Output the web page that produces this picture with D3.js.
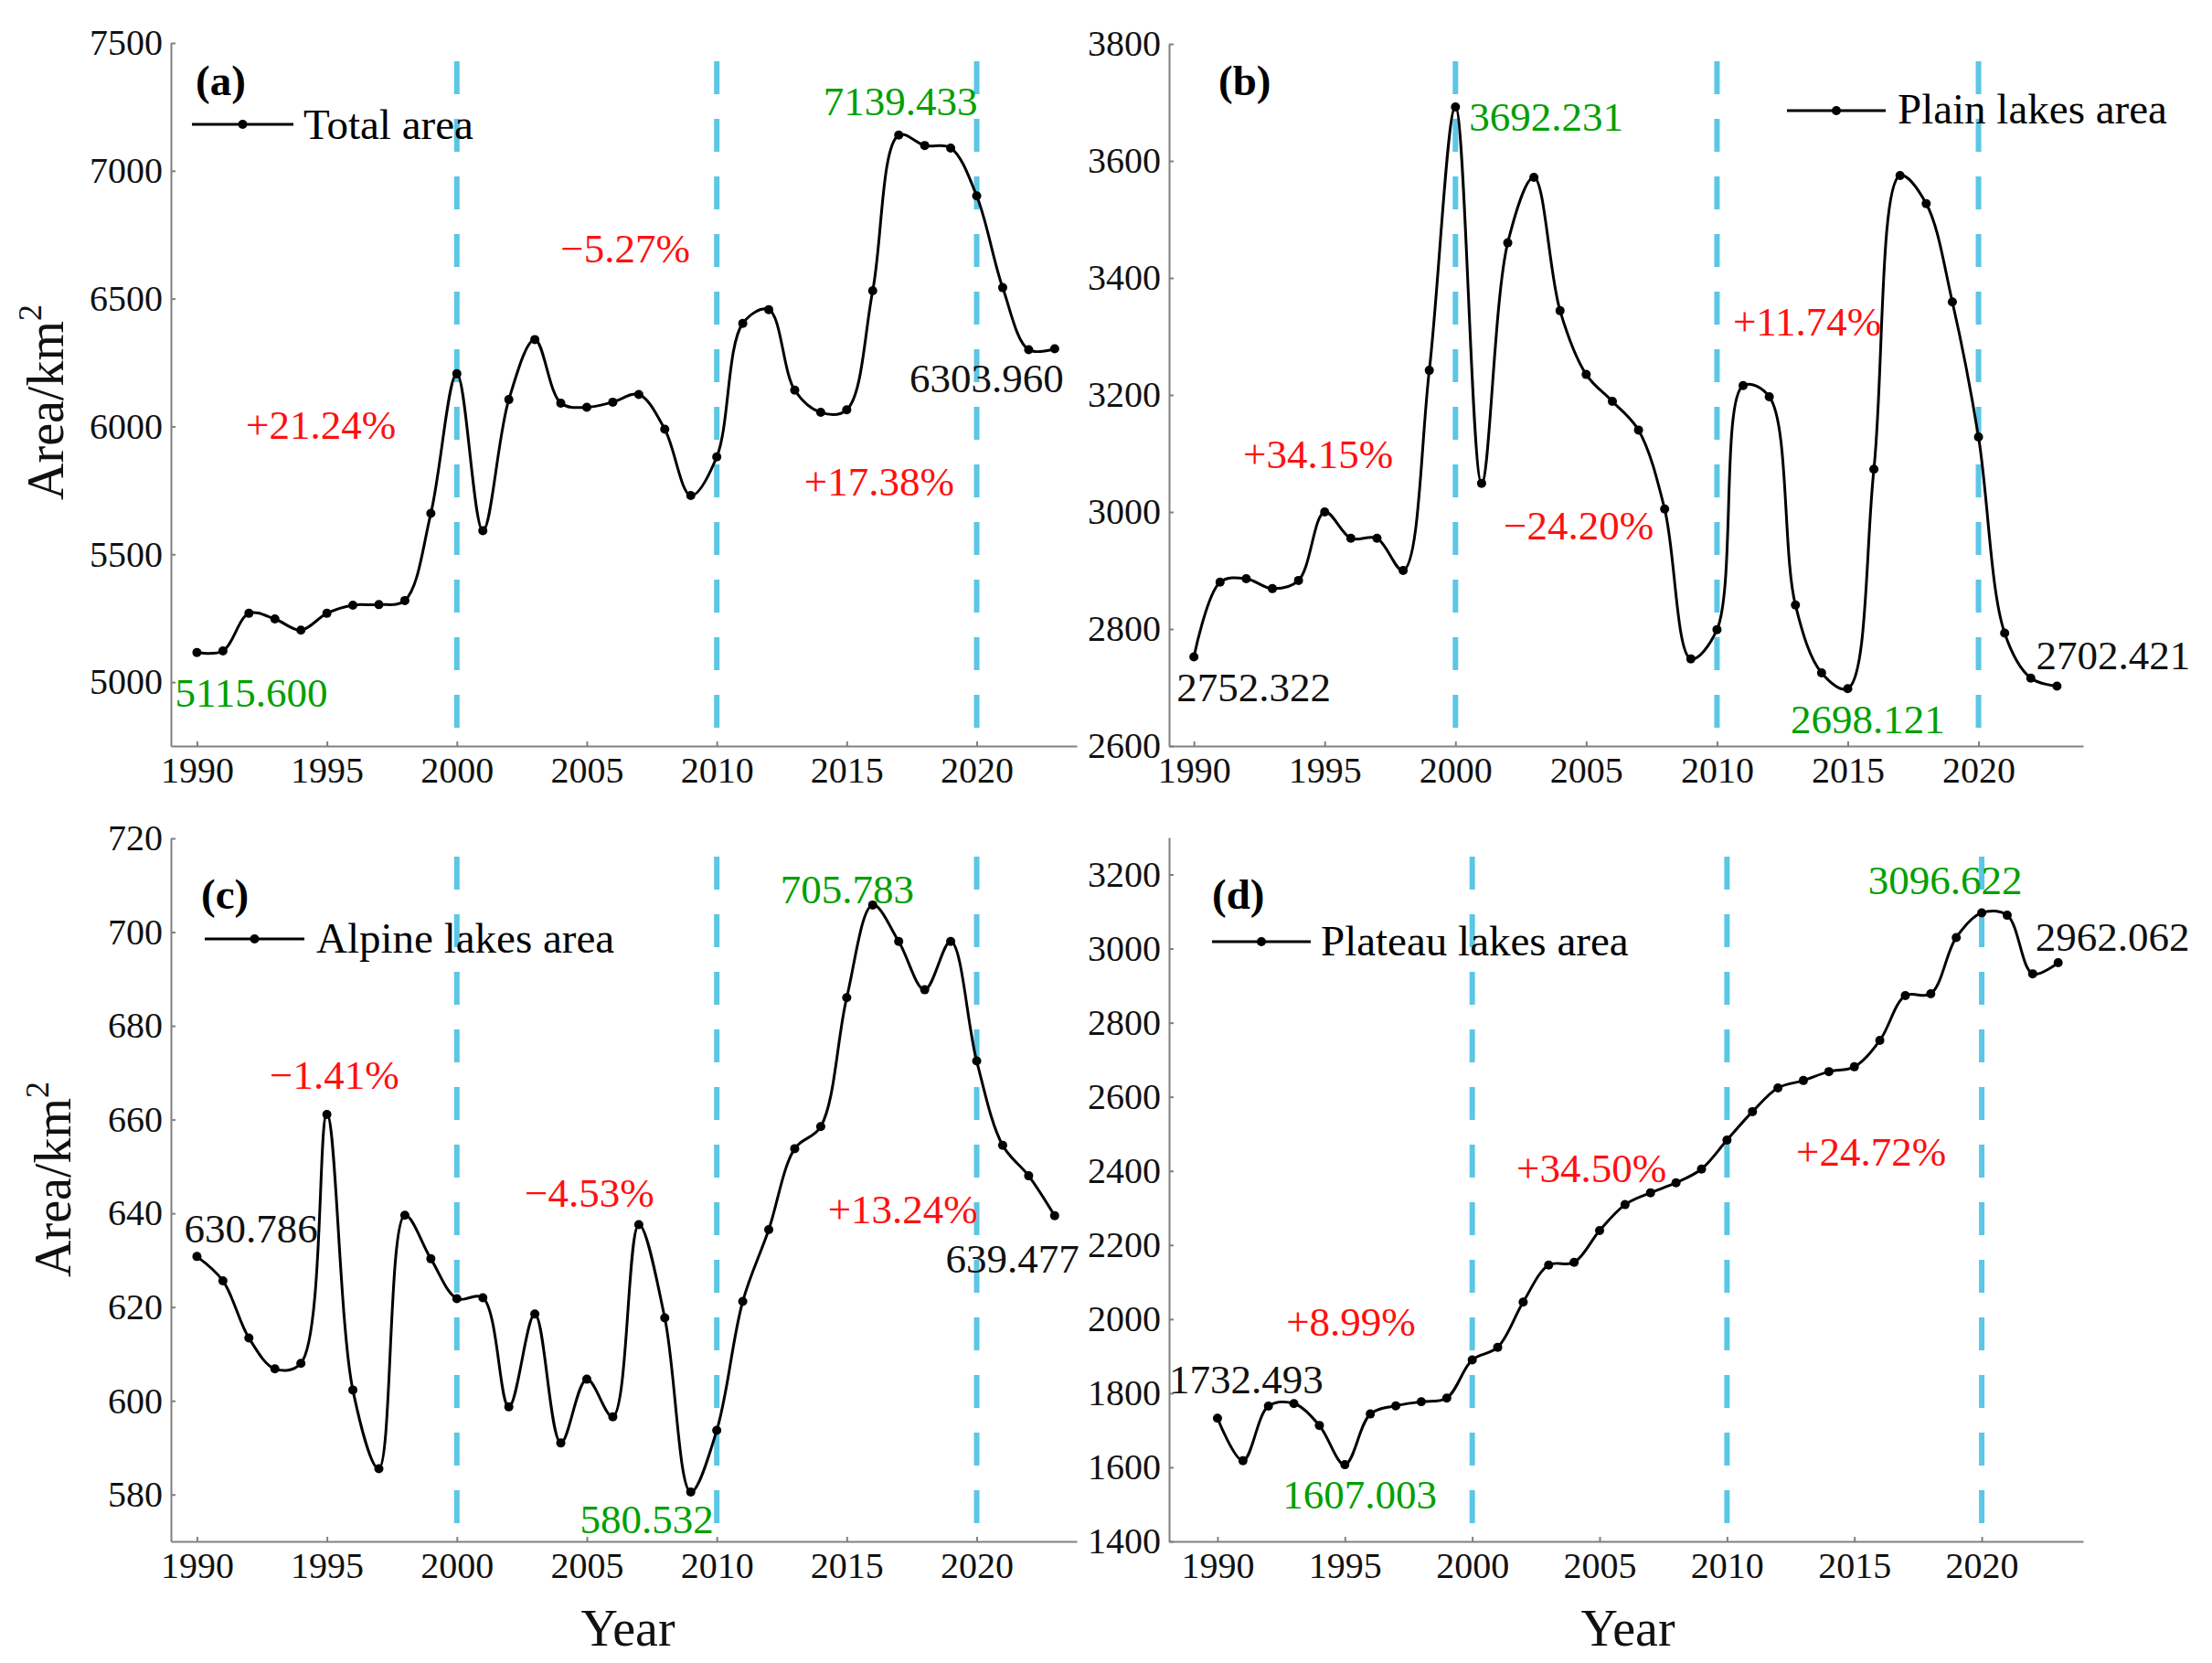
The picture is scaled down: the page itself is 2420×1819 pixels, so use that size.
<!DOCTYPE html>
<html>
<head>
<meta charset="utf-8">
<script src="https://cdn.jsdelivr.net/npm/d3@7"></script>
<style>
  html, body { margin: 0; padding: 0; background: #fff; }
  svg { display: block; }
</style>
</head>
<body>
<svg id="chart" width="2420" height="1819"></svg>
<script>
// ---------------- DATA ----------------
const years = [1990,1991,1992,1993,1994,1995,1996,1997,1998,1999,
               2000,2001,2002,2003,2004,2005,2006,2007,2008,2009,
               2010,2011,2012,2013,2014,2015,2016,2017,2018,2019,
               2020,2021,2022,2023];

const totalArea = [5115.600, 5122, 5269, 5247, 5203, 5269, 5301, 5303, 5319, 5660,
                   6206, 5592, 6105, 6340, 6091, 6075, 6095, 6125, 5989, 5730,
                   5881, 6403, 6457, 6142, 6055, 6065, 6531, 7139.433, 7099, 7089,
                   6902, 6543, 6300, 6303.960];

const plainArea = [2752.322, 2880, 2886, 2869, 2883, 3000, 2955, 2955, 2900, 3242,
                   3692.231, 3049, 3460, 3572, 3344, 3235, 3189, 3140, 3005, 2749,
                   2799, 3216, 3197, 2841, 2725, 2698.121, 3073, 3575, 3527, 3359,
                   3128, 2793, 2716, 2702.421];

const alpineArea = [630.786, 625.6, 613.4, 606.8, 608.0, 661.1, 602.3, 585.5, 639.6, 630.3,
                    621.8, 622.0, 598.7, 618.5, 591.0, 604.6, 596.6, 637.6, 617.7, 580.532,
                    593.7, 621.2, 636.5, 653.8, 658.5, 686.0, 705.783, 698.0, 687.7, 698.0,
                    672.5, 654.5, 648.0, 639.477];

const plateauArea = [1732.493, 1618, 1765, 1772, 1713, 1607.003, 1744, 1766, 1777, 1787,
                     1890, 1924, 2046, 2146, 2153, 2239, 2309, 2341, 2368, 2405,
                     2483, 2560, 2624, 2644, 2668, 2681, 2752, 2873, 2878, 3030,
                     3096.622, 3090, 2932, 2962.062];

const xTicks = [1990, 1995, 2000, 2005, 2010, 2015, 2020];
const dividerYears = [2000, 2010, 2020];
const yTicksA = [5000, 5500, 6000, 6500, 7000, 7500];
const yTicksB = [2600, 2800, 3000, 3200, 3400, 3600, 3800];
const yTicksC = [580, 600, 620, 640, 660, 680, 700, 720];
const yTicksD = [1400, 1600, 1800, 2000, 2200, 2400, 2600, 2800, 3000, 3200];

const seriesNames = ["Total area", "Plain lakes area", "Alpine lakes area", "Plateau lakes area"];
const panelLetters = ["(a)", "(b)", "(c)", "(d)"];

// value labels: [year, text, colour]
const valueLabelsA = [[1990, "5115.600", "green"], [2017, "7139.433", "green"], [2023, "6303.960", "black"]];
const valueLabelsB = [[1990, "2752.322", "black"], [2000, "3692.231", "green"], [2015, "2698.121", "green"], [2023, "2702.421", "black"]];
const valueLabelsC = [[1990, "630.786", "black"], [2016, "705.783", "green"], [2009, "580.532", "green"], [2023, "639.477", "black"]];
const valueLabelsD = [[1990, "1732.493", "black"], [1995, "1607.003", "green"], [2020, "3096.622", "green"], [2023, "2962.062", "black"]];

// period change labels: [text, year position, value position]
const changeLabelsA = [["+21.24%", 1994.77, 5951], ["\u22125.27%", 2006.48, 6642], ["+17.38%", 2016.25, 5730]];
const changeLabelsB = [["+34.15%", 1994.75, 3075], ["\u221224.20%", 2004.71, 2953], ["+11.74%", 2013.45, 3302]];
const changeLabelsC = [["\u22121.41%", 1995.29, 666.5], ["\u22124.53%", 2005.10, 641.4], ["+13.24%", 2017.16, 637.9]];
const changeLabelsD = [["+8.99%", 1995.24, 1955], ["+34.50%", 2004.68, 2370], ["+24.72%", 2015.66, 2414]];

// ---------------- LAYOUT ----------------
const FONT = "'Liberation Serif', 'Times New Roman', serif";
const GREEN = "#00a000", RED = "#ff1010", BLUE = "#5cc6e6", AXIS = "#808080";

const panels = [
  { values: totalArea, name: seriesNames[0], letter: panelLetters[0], yTicks: yTicksA,
    yDomain: [4750, 7500], xDomain: [1989, 2023.85], left: 187, right: 1178, top: 47, bottom: 816,
    dashTop: 67, yTitle: { x: 69, y: 440 }, xTitle: null,
    letterPos: [214, 104], legend: { x1: 210, x2: 321, y: 136, tx: 332, ty: 152 },
    valueLabels: valueLabelsA,
    valueOffsets: [["start", -24, 59], ["middle", 2, -22], ["end", 10, 48]],
    changes: changeLabelsA },
  { values: plainArea, name: seriesNames[1], letter: panelLetters[1], yTicks: yTicksB,
    yDomain: [2600, 3800], xDomain: [1989.05, 2024], left: 1279, right: 2279, top: 48, bottom: 816,
    dashTop: 67, yTitle: null, xTitle: null,
    letterPos: [1333, 104], legend: { x1: 1955, x2: 2063, y: 121, tx: 2076, ty: 135 },
    valueLabels: valueLabelsB,
    valueOffsets: [["start", -19, 48], ["start", 15, 26], ["middle", 22, 49], ["start", -23, -18]],
    changes: changeLabelsB },
  { values: alpineArea, name: seriesNames[2], letter: panelLetters[2], yTicks: yTicksC,
    yDomain: [570, 720], xDomain: [1989, 2023.85], left: 187, right: 1178, top: 917, bottom: 1686,
    dashTop: 937, yTitle: { x: 77, y: 1290 }, xTitle: { x: 687, y: 1800 },
    letterPos: [220, 994], legend: { x1: 224, x2: 333, y: 1027, tx: 346, ty: 1042 },
    valueLabels: valueLabelsC,
    valueOffsets: [["start", -14, -15], ["middle", -28, -2], ["middle", -48, 45], ["end", 27, 62]],
    changes: changeLabelsC },
  { values: plateauArea, name: seriesNames[3], letter: panelLetters[3], yTicks: yTicksD,
    yDomain: [1400, 3300], xDomain: [1988.1, 2023.98], left: 1279, right: 2279, top: 916, bottom: 1686,
    dashTop: 937, yTitle: null, xTitle: { x: 1781, y: 1800 },
    letterPos: [1326, 994], legend: { x1: 1326, x2: 1434, y: 1030, tx: 1445, ty: 1045 },
    valueLabels: valueLabelsD,
    valueOffsets: [["start", -53, -27], ["start", -68, 48], ["middle", -40, -20], ["start", -25, -13]],
    changes: changeLabelsD }
];

const svg = d3.select("#chart");
svg.append("rect").attr("width", 2420).attr("height", 1819).attr("fill", "#fff");

panels.forEach(p => {
  const x = d3.scaleLinear().domain(p.xDomain).range([p.left, p.right]);
  const y = d3.scaleLinear().domain(p.yDomain).range([p.bottom, p.top]);
  const g = svg.append("g");

  // dashed dividers
  g.selectAll("line.div").data(dividerYears).enter().append("line")
    .attr("x1", d => x(d)).attr("x2", d => x(d))
    .attr("y1", p.dashTop).attr("y2", p.bottom)
    .attr("stroke", BLUE).attr("stroke-width", 6)
    .attr("stroke-dasharray", "36,27");

  // axes
  const yAxis = d3.axisLeft(y).tickValues(p.yTicks).tickSizeInner(-5).tickSizeOuter(0).tickPadding(9)
    .tickFormat(d3.format("d"));
  const xAxis = d3.axisBottom(x).tickValues(xTicks).tickSizeInner(-5).tickSizeOuter(0).tickPadding(12)
    .tickFormat(d3.format("d"));
  const ya = g.append("g").attr("transform", `translate(${p.left},0)`).call(yAxis);
  const xa = g.append("g").attr("transform", `translate(0,${p.bottom})`).call(xAxis);
  [ya, xa].forEach(a => {
    a.attr("font-family", FONT).attr("font-size", 40);
    a.select(".domain").attr("stroke", AXIS).attr("stroke-width", 2);
    a.selectAll(".tick line").attr("stroke", AXIS).attr("stroke-width", 2);
    a.selectAll(".tick text").attr("fill", "#111");
  });

  // line
  const line = d3.line()
    .x((d, i) => x(years[i]))
    .y(d => y(d))
    .curve(d3.curveCatmullRom.alpha(0.5));
  g.append("path").datum(p.values).attr("d", line)
    .attr("fill", "none").attr("stroke", "#000").attr("stroke-width", 3);
  g.selectAll("circle.pt").data(p.values).enter().append("circle")
    .attr("cx", (d, i) => x(years[i])).attr("cy", d => y(d)).attr("r", 5).attr("fill", "#000");

  // panel letter
  g.append("text").attr("x", p.letterPos[0]).attr("y", p.letterPos[1])
    .attr("font-family", FONT).attr("font-size", 47).attr("font-weight", "bold").text(p.letter);

  // legend
  g.append("line").attr("x1", p.legend.x1).attr("x2", p.legend.x2)
    .attr("y1", p.legend.y).attr("y2", p.legend.y).attr("stroke", "#000").attr("stroke-width", 3);
  g.append("circle").attr("cx", (p.legend.x1 + p.legend.x2) / 2).attr("cy", p.legend.y)
    .attr("r", 5).attr("fill", "#000");
  g.append("text").attr("x", p.legend.tx).attr("y", p.legend.ty)
    .attr("font-family", FONT).attr("font-size", 47).attr("fill", "#000").text(p.name);

  // value labels anchored at data points
  p.valueLabels.forEach((v, k) => {
    const idx = years.indexOf(v[0]);
    const off = p.valueOffsets[k];
    g.append("text")
      .attr("x", x(v[0]) + off[1]).attr("y", y(p.values[idx]) + off[2])
      .attr("text-anchor", off[0])
      .attr("font-family", FONT).attr("font-size", 45)
      .attr("fill", v[2] === "green" ? GREEN : "#111")
      .text(v[1]);
  });

  // change labels
  p.changes.forEach(c => {
    g.append("text").attr("x", x(c[1])).attr("y", y(c[2]))
      .attr("text-anchor", "middle")
      .attr("font-family", FONT).attr("font-size", 45).attr("fill", RED).text(c[0]);
  });

  // titles
  if (p.yTitle) {
    const t = g.append("text")
      .attr("transform", `translate(${p.yTitle.x},${p.yTitle.y}) rotate(-90)`)
      .attr("text-anchor", "middle")
      .attr("font-family", FONT).attr("font-size", 56).attr("fill", "#111");
    t.append("tspan").text("Area/km");
    t.append("tspan").attr("font-size", 36).attr("dy", -24).text("2");
  }
  if (p.xTitle) {
    g.append("text").attr("x", p.xTitle.x).attr("y", p.xTitle.y)
      .attr("text-anchor", "middle")
      .attr("font-family", FONT).attr("font-size", 56).attr("fill", "#111").text("Year");
  }
});
</script>
</body>
</html>
